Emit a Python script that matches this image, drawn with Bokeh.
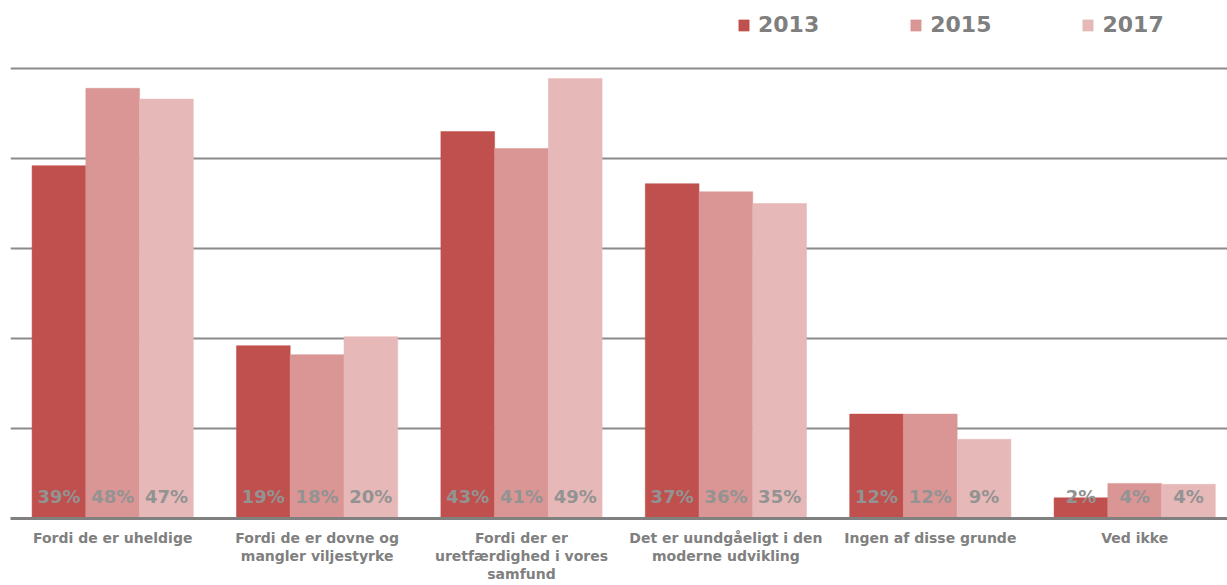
from bokeh.plotting import figure
from bokeh.models import Range1d, FixedTicker, Legend, LegendItem, ColumnDataSource
from bokeh.core.properties import value
from bokeh.embed import file_html
from bokeh.resources import INLINE

categories = ["Fordi de er uheldige",
              "Fordi de er dovne og\nmangler viljestyrke",
              "Fordi der er\nuretfærdighed i vores\nsamfund",
              "Det er uundgåeligt i den\nmoderne udvikling",
              "Ingen af disse grunde",
              "Ved ikke"]
years = ["2013", "2015", "2017"]
v2013 = [39.2, 19.2, 43.0, 37.2, 11.6, 2.3]
v2015 = [47.8, 18.2, 41.1, 36.3, 11.6, 3.9]
v2017 = [46.6, 20.2, 48.9, 35.0, 8.8, 3.8]
colors = ["#C0504D", "#D99694", "#E6B9B8"]

FONT = "DejaVu Sans"
GRAY = "#808080"
LABEL_GRAY = "#939393"

n = len(categories)
px_per_cat = 204.4
frame_w = 1217
bar_w = 0.263

p = figure(width=1227, height=585, output_backend="svg", toolbar_location=None,
           x_range=Range1d(0, frame_w / px_per_cat), y_range=Range1d(0, 518 / 9),
           min_border_left=10, min_border_right=0, min_border_top=0, min_border_bottom=67)
p.outline_line_color = None
p.background_fill_color = "white"
p.border_fill_color = "white"

p.yaxis.visible = False
p.xgrid.visible = False
p.ygrid.ticker = FixedTicker(ticks=[10, 20, 30, 40, 50])
p.ygrid.grid_line_color = "#8a8a8a"
p.ygrid.grid_line_width = 2

centers = [i + 0.5 for i in range(n)]
p.xaxis.ticker = FixedTicker(ticks=centers)
p.xaxis.major_label_overrides = {c: lab for c, lab in zip(centers, categories)}
p.xaxis.axis_line_color = GRAY
p.xaxis.axis_line_width = 3
p.xaxis.major_tick_line_color = None
p.xaxis.minor_tick_line_color = None
p.xaxis.major_label_text_font = FONT
p.xaxis.major_label_text_font_style = "bold"
p.xaxis.major_label_text_font_size = "14px"
p.xaxis.major_label_text_color = GRAY
p.xaxis.major_label_text_line_height = 1.15
p.xaxis.major_label_standoff = 5

offsets = [-bar_w, 0, bar_w]
series = [v2013, v2015, v2017]
items = []
for yr, vals, off, col in zip(years, series, offsets, colors):
    xs = [c + off for c in centers]
    src = ColumnDataSource(dict(x=xs, top=vals,
                                lab=[f"{round(v)}%" for v in vals],
                                ly=[2.45] * n))
    r = p.vbar(x="x", top="top", bottom=0, width=bar_w, source=src,
               fill_color=col, line_color=col, line_width=0.5)
    p.text(x="x", y="ly", text="lab", source=src, text_align="center",
           text_baseline="middle", text_font=value(FONT), text_font_size="18px",
           text_font_style="bold", text_color=LABEL_GRAY)
    items.append(LegendItem(label=yr, renderers=[r]))

legend = Legend(items=items, orientation="horizontal", location=(727, 481),
                glyph_width=13, glyph_height=14, label_standoff=8, spacing=90,
                padding=0, margin=0, border_line_color=None, background_fill_alpha=0,
                label_text_font=FONT, label_text_font_style="bold",
                label_text_font_size="22px", label_text_color="#7f7f7f")
p.add_layout(legend, "center")

open("out.html", "w").write(file_html(p, INLINE))
